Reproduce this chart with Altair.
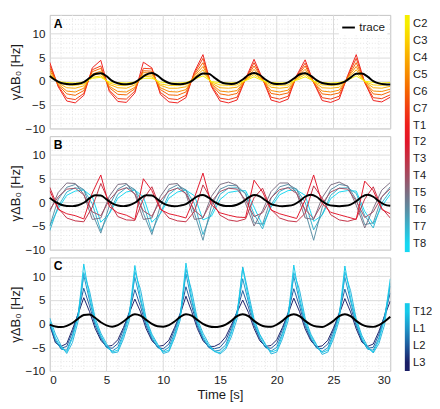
import altair as alt
import pandas as pd

# ---------------- data ----------------
T75 = [0, 0.75, 1.5, 2.25, 3, 3.75, 4.5, 5.25, 6, 6.75, 7.5, 8.25, 9, 9.75, 10.5, 11.25,
       12, 12.75, 13.5, 14.25, 15, 15.75, 16.5, 17.25, 18, 18.75, 19.5, 20.25, 21, 21.75,
       22.5, 23.25, 24, 24.75, 25.5, 26.25, 27, 27.75, 28.5, 29.25, 30]
T50 = [0, 0.5, 1, 1.5, 2, 2.5, 3, 3.5, 4, 4.5, 5, 5.5, 6, 6.5, 7, 7.5, 8, 8.5, 9, 9.5,
       10, 10.5, 11, 11.5, 12, 12.5, 13, 13.5, 14, 14.5, 15, 15.5, 16, 16.5, 17, 17.5,
       18, 18.5, 19, 19.5, 20, 20.5, 21, 21.5, 22, 22.5, 23, 23.5, 24, 24.5, 25, 25.5,
       26, 26.5, 27, 27.5, 28, 28.5, 29, 29.5, 30]

LEVELS = ["C2", "C3", "C4", "C5", "C6", "C7", "T1", "T2", "T3", "T4", "T5", "T6", "T7", "T8",
          "T9", "T10", "T11", "T12", "L1", "L2", "L3"]
SHOWN = ["C2", "C3", "C4", "C5", "C6", "C7", "T1", "T2", "T3", "T4", "T5", "T6", "T7", "T8",
         "", "", "", "T12", "L1", "L2", "L3"]
UPPER_COLORS = ["#f6ee00", "#fbd000", "#f9ad00", "#f78a00", "#f56400", "#f23d12", "#ee1e1c",
                "#e2162a", "#c43044", "#a24c62", "#7c6e82", "#5a8ea4", "#36b4ce", "#16d8f2"]
LOWER_COLORS = ["#16caea", "#1e94c8", "#1e5a9c", "#1a1e66"]
COLOR = dict(zip(LEVELS[:14], UPPER_COLORS))
COLOR.update(dict(zip(LEVELS[17:], LOWER_COLORS)))

# Panel A (cervical + T1)
A_T1 = [4.0, -1.2, -4.2, -4.6, -3.0, 2.8, 4.4, -2.2, -4.3, -4.5, -2.5, 4.0, 2.8, -2.8, -4.4, -4.6, -3.5, 2.0, 5.6, -1.2,
        -4.2, -4.6, -4.0, 0.5, 4.6, 0.5, -4.0, -4.5, -3.8, 1.2, 4.5, -0.3, -4.1, -4.5, -3.8, 1.2, 5.6, -0.3, -4.1, -4.4, -3.4]
A_C7 = [3.4, -1.0, -3.6, -3.9, -2.6, 2.4, 3.2, -1.9, -3.7, -3.8, -2.1, 2.7, 2.6, -2.4, -3.7, -3.9, -3.0, 1.7, 4.8, -1.0,
        -3.6, -3.9, -3.4, 0.4, 3.9, 0.4, -3.4, -3.8, -3.2, 1.0, 3.8, -0.3, -3.5, -3.8, -3.2, 1.0, 4.8, -0.3, -3.5, -3.7, -2.9]
A_C6 = [2.8, -0.8, -2.7, -3.0, -2.0, 2.0, 2.7, -1.4, -2.8, -2.9, -1.6, 2.2, 2.1, -1.8, -2.9, -3.0, -2.3, 1.4, 3.9, -0.8,
        -2.7, -3.0, -2.6, 0.4, 3.2, 0.4, -2.6, -2.9, -2.5, 0.8, 3.2, -0.2, -2.7, -2.9, -2.5, 0.8, 3.9, -0.2, -2.7, -2.9, -2.2]
A_C5 = [2.2, -0.6, -2.1, -2.3, -1.5, 1.5, 2.1, -1.1, -2.2, -2.3, -1.3, 1.8, 1.7, -1.4, -2.2, -2.3, -1.8, 1.1, 3.1, -0.6,
        -2.1, -2.3, -2.0, 0.3, 2.5, 0.3, -2.0, -2.3, -1.9, 0.7, 2.5, -0.2, -2.1, -2.3, -1.9, 0.7, 3.1, -0.2, -2.1, -2.2, -1.7]
A_C4 = [1.7, -0.4, -1.4, -1.5, -1.0, 1.2, 1.6, -0.7, -1.4, -1.5, -0.8, 1.3, 1.3, -0.9, -1.5, -1.5, -1.2, 0.8, 2.4, -0.4,
        -1.4, -1.5, -1.3, 0.2, 1.9, 0.2, -1.3, -1.5, -1.3, 0.5, 1.9, -0.1, -1.4, -1.5, -1.3, 0.5, 2.4, -0.1, -1.4, -1.5, -1.1]
A_C3 = [1.2, -0.2, -0.8, -0.9, -0.6, 0.8, 1.1, -0.4, -0.9, -0.9, -0.5, 1.0, 0.9, -0.6, -0.9, -0.9, -0.7, 0.6, 1.7, -0.2,
        -0.8, -0.9, -0.8, 0.2, 1.4, 0.2, -0.8, -0.9, -0.8, 0.4, 1.4, -0.1, -0.8, -0.9, -0.8, 0.4, 1.7, -0.1, -0.8, -0.9, -0.7]
A_C2 = [0.8, -0.1, -0.3, -0.4, -0.2, 0.6, 0.8, -0.2, -0.3, -0.4, -0.2, 0.6, 0.6, -0.2, -0.4, -0.4, -0.3, 0.4, 1.1, -0.1,
        -0.3, -0.4, -0.3, 0.1, 0.9, 0.1, -0.3, -0.4, -0.3, 0.2, 0.9, 0.0, -0.3, -0.4, -0.3, 0.2, 1.1, 0.0, -0.3, -0.4, -0.3]
A_TRACE = [1.1, 0.2, -0.4, -0.6, -0.65, -0.55, -0.2, 0.65, 1.5, 1.65, 1.05, 0.05, -0.45, -0.65, -0.6, -0.25, 0.55, 1.4,
           1.7, 1.15, 0.2, -0.4, -0.62, -0.65, -0.48, 0.0, 0.95, 1.62, 1.55, 0.75, -0.1, -0.52, -0.6, -0.35, 0.35, 1.3,
           1.7, 1.3, 0.35, -0.35, -0.6, -0.58, -0.25, 0.55, 1.4, 1.65, 1.1, 0.2, -0.4, -0.62, -0.68, -0.52, -0.1, 0.75,
           1.55, 1.62, 0.95, 0.0, -0.48, -0.65, -0.7]

# Panel B (T2 - T8)
B_T2 = [2.5, -1.5, -2.4, -2.8, -3.5, 2.0, 5.8, -0.9, -2.2, -2.7, -3.6, 5.0, 2.5, -1.5, -2.4, -2.8, -3.3, 1.0, 6.2, -0.5,
        -2.2, -2.7, -3.1, -3.2, 4.7, 2.2, -1.6, -2.4, -2.9, -3.4, 0.5, 5.8, -0.2, -2.1, -2.6, -3.1, -3.6, 4.5, 2.5, -1.5, -2.4]
B_T3 = [3.2, -1.2, -3.3, -3.9, -4.1, -1.0, 4.0, 0.0, -3.0, -3.7, -3.8, 0.7, 3.3, -1.2, -3.3, -3.9, -4.1, -1.9, 3.7, 0.5,
        -2.7, -3.7, -4.0, -3.5, 1.0, 3.0, -1.5, -3.3, -3.9, -4.1, -2.3, 3.5, 0.9, -2.6, -3.7, -4.0, -3.5, 0.7, 3.3, -1.2, -3.3]
B_T4 = [-1.6, 1.2, 2.8, 3.0, 1.6, -2.0, -2.8, 0.5, 2.5, 3.1, 1.8, -1.8, -2.9, 0.4, 2.4, 3.0, 1.9, -1.7, -3.2, 0.2,
        2.3, 3.0, 2.8, 0.5, -3.0, -2.2, 1.0, 2.7, 3.1, 1.9, -1.5, -3.4, -0.3, 2.2, 3.0, 2.8, 0.3, -3.2, -2.0, 1.2, 2.9]
B_T5 = [-2.0, 2.1, 4.1, 4.0, 1.7, -3.6, -3.3, 1.3, 3.8, 4.0, 1.7, -3.6, -3.3, 1.3, 3.8, 4.0, 1.7, -3.6, -3.3, 1.3,
        3.8, 4.3, 3.6, -0.2, -5.0, -1.7, 2.3, 4.1, 4.1, 2.0, -3.3, -3.6, 1.0, 3.7, 4.3, 3.4, -0.6, -5.4, -1.3, 2.6, 4.2]
B_T6 = [-5.0, 0.7, 3.2, 3.8, 2.7, -2.3, -6.5, -0.7, 2.8, 3.8, 2.7, -2.3, -6.8, -0.7, 2.8, 3.7, 2.6, -2.3, -8.0, -0.7,
        2.8, 3.6, 3.5, 1.8, -4.3, -4.6, 0.9, 3.3, 3.8, 2.8, -1.9, -8.0, -1.1, 2.7, 3.8, 3.5, 0.6, -4.7, -4.3, 1.1, 3.3]
B_T7 = [-6.0, -0.8, 2.2, 3.1, 2.7, -0.3, -6.0, -2.2, 1.7, 3.1, 2.7, -0.3, -6.2, -2.2, 1.7, 3.1, 2.7, -0.3, -6.8, -2.2,
        1.7, 3.0, 3.1, 2.0, -2.5, -5.6, -0.5, 2.3, 3.2, 2.8, 0.0, -5.8, -2.5, 1.5, 3.0, 3.1, 1.9, -2.8, -5.4, -0.1, 2.4]
B_T8 = [-5.0, -1.3, 1.5, 2.4, 2.6, 1.2, -4.2, -2.4, 0.9, 2.2, 2.6, 1.2, -4.2, -2.4, 0.9, 2.2, 2.6, 1.4, -3.7, -2.9,
        0.6, 2.1, 2.4, 2.5, -1.0, -4.9, -1.0, 1.6, 2.5, 2.6, 1.5, -4.0, -2.7, 0.8, 2.2, 2.5, 2.4, -1.9, -4.6, -0.8, 1.7]
B_TRACE = [1.0, 0.1, -0.5, -0.75, -0.78, -0.6, -0.08, 0.85, 1.52, 1.45, 0.65, -0.2, -0.65, -0.78, -0.6, -0.08, 0.85,
           1.52, 1.45, 0.65, -0.2, -0.65, -0.8, -0.68, -0.35, 0.45, 1.3, 1.58, 1.0, 0.1, -0.5, -0.75, -0.75, -0.5, 0.1,
           1.0, 1.58, 1.3, 0.45, -0.35, -0.68, -0.8, -0.72, -0.45, 0.25, 1.2, 1.6, 1.2, 0.25, -0.45, -0.72, -0.8, -0.72,
           -0.45, 0.25, 1.2, 1.6, 1.2, 0.25, -0.45, -0.72]

# Panel C (T12 - L3)
C_T12 = [0.5, -3.0, -5.0, -6.0, -3.0, 1.5, 12.6, 5.8, 0.5, -2.5, -4.6, -6.0, -5.6, -2.5, 1.5, 12.3, 5.5, 0.5, -2.6, -4.6,
         -6.0, -5.6, -2.5, 1.5, 12.8, 5.6, 0.4, -2.6, -4.6, -5.9, -6.1, -5.0, -2.0, 2.0, 11.8, 5.4, 0.5, -2.5, -4.5, -6.0,
         -5.6, -2.5, 1.5, 12.4, 5.6, 0.5, -2.6, -4.6, -6.1, -5.6, -2.5, 1.5, 12.2, 5.5, 0.5, -3.0, -5.2, -6.0, -3.5, 1.0, 9.5]
C_T12B = [1.2, -2.2, -4.6, -6.3, -4.0, 0.5, 10.8, 7.0, 1.2, -2.0, -4.2, -6.2, -6.0, -3.2, 0.6, 11.0, 7.2, 1.0, -2.2, -4.3,
          -6.3, -5.9, -3.0, 0.8, 11.5, 7.0, 1.0, -2.0, -4.2, -5.8, -6.4, -5.4, -2.8, 1.0, 12.0, 6.5, 1.0, -2.2, -4.3, -6.4,
          -6.0, -3.2, 0.6, 10.8, 7.2, 1.2, -2.2, -4.4, -6.5, -6.0, -3.2, 0.7, 10.9, 7.0, 1.0, -2.5, -4.8, -6.2, -4.2, -0.2, 8.5]
C_L1 = [0.2, -3.4, -5.4, -5.6, -2.6, 2.0, 10.2, 5.0, 0.2, -2.8, -5.0, -5.8, -5.0, -2.0, 2.2, 9.8, 4.8, 0.0, -3.0, -5.0,
        -5.8, -5.0, -2.0, 2.0, 10.5, 4.9, 0.0, -3.0, -5.0, -5.8, -5.6, -4.5, -1.5, 2.5, 9.5, 4.6, 0.0, -3.0, -5.0, -5.8,
        -5.0, -2.0, 2.0, 10.0, 4.8, 0.0, -3.0, -5.1, -5.9, -5.1, -2.0, 2.0, 9.8, 4.8, 0.0, -3.4, -5.4, -5.6, -3.0, 1.5, 8.0]
C_L2 = [0.0, -3.8, -5.2, -4.8, -1.8, 2.2, 7.5, 3.8, -0.4, -3.2, -5.0, -5.2, -4.2, -1.2, 2.4, 7.2, 3.6, -0.5, -3.3, -5.0,
        -5.3, -4.3, -1.2, 2.3, 7.8, 3.8, -0.5, -3.3, -5.0, -5.3, -5.0, -3.6, -0.8, 2.6, 7.0, 3.5, -0.4, -3.2, -5.0, -5.2,
        -4.2, -1.2, 2.4, 7.4, 3.7, -0.5, -3.3, -5.1, -5.3, -4.3, -1.3, 2.3, 7.3, 3.6, -0.5, -3.6, -5.2, -5.0, -2.2, 1.8, 6.5]
C_L3 = [-0.3, -4.0, -4.8, -4.2, -1.2, 2.0, 5.5, 2.6, -1.0, -3.5, -4.8, -4.6, -3.4, -0.8, 2.2, 5.2, 2.5, -1.1, -3.6, -4.8,
        -4.6, -3.5, -0.8, 2.0, 5.8, 2.6, -1.0, -3.6, -4.8, -4.8, -4.2, -2.8, -0.3, 2.4, 5.0, 2.4, -1.0, -3.6, -4.8, -4.6,
        -3.4, -0.8, 2.1, 5.4, 2.6, -1.1, -3.6, -4.9, -4.7, -3.5, -0.9, 2.0, 5.3, 2.5, -1.1, -3.9, -4.8, -4.3, -1.6, 1.6, 4.8]
C_TRACE = [-0.2, -0.6, -0.72, -0.45, 0.15, 1.05, 1.85, 1.95, 1.25, 0.3, -0.35, -0.63, -0.3, 0.45, 1.45, 2.0, 1.7, 0.8,
           -0.05, -0.55, -0.63, -0.3, 0.45, 1.45, 2.0, 1.7, 0.8, -0.05, -0.55, -0.72, -0.6, -0.2, 0.6, 1.6, 2.0, 1.6,
           0.6, -0.2, -0.6, -0.65, -0.2, 0.6, 1.6, 2.0, 1.6, 0.6, -0.2, -0.6, -0.7, -0.2, 0.6, 1.6, 2.0, 1.6, 0.6,
           -0.2, -0.6, -0.68, -0.3, 0.45, 1.45]

PANEL_A = [("T1", A_T1), ("C7", A_C7), ("C6", A_C6), ("C5", A_C5), ("C4", A_C4), ("C3", A_C3), ("C2", A_C2)]
PANEL_B = [("T8", B_T8), ("T7", B_T7), ("T6", B_T6), ("T5", B_T5), ("T4", B_T4), ("T3", B_T3), ("T2", B_T2)]
PANEL_C = [("L3", C_L3), ("L2", C_L2), ("L1", C_L1), ("T12", C_T12B), ("T12", C_T12)]

X_TICKS = [0, 5, 10, 15, 20, 25, 30]
Y_TICKS = [-10, -5, 0, 5, 10]
MAJOR_X = [5, 10, 15, 20, 25]
MINOR_X = [1, 2, 3, 4, 6, 7, 8, 9, 11, 12, 13, 14, 16, 17, 18, 19, 21, 22, 23, 24, 26, 27, 28, 29]
MINOR_Y = [-9, -8, -7, -6, -4, -3, -2, -1, 1, 2, 3, 4, 6, 7, 8, 9, 11, 12, 13]

# colorbar segments (in level index units)
SEG_START = [0, 14, 17]
SEG_END = [14, 17, 21]

# ---------------- layout ----------------
W = 351
H = 117
GAP = 8
FONT = "Liberation Sans"
Y_TITLE = "γΔB₀ [Hz]"


def xenc(field, bottom):
    sc = alt.Scale(domain=[0, 30], nice=False, zero=False)
    if bottom:
        ax = alt.Axis(values=X_TICKS, grid=False, title="Time [s]", labelPadding=4, titlePadding=2)
        return alt.X(field, type="quantitative", scale=sc, axis=ax)
    return alt.X(field, type="quantitative", scale=sc, axis=None)


def yenc(field):
    return alt.Y(field, type="quantitative",
                 scale=alt.Scale(domain=[-10, 14], nice=False, zero=False),
                 axis=alt.Axis(values=Y_TICKS, grid=True, title=Y_TITLE, labelPadding=5, titlePadding=3))


def make_panel(series, tgrid, trace, letter, bottom, legend, colors_override=None):
    rows = []
    for i, (lvl, vals) in enumerate(series):
        col = COLOR[lvl]
        if colors_override and i in colors_override:
            col = colors_override[i]
        for t, v in zip(tgrid, vals):
            rows.append({"t": t, "v": v, "series": f"{lvl}_{i}", "col": col})
    df = pd.DataFrame(rows)
    tr = pd.DataFrame({"t": T50, "v": trace, "name": ["trace"] * len(T50)})

    mx = alt.Chart(pd.DataFrame({"mx": MINOR_X})).mark_rule(
        color="#e4e4e4", strokeDash=[1, 2], strokeWidth=1).encode(x=xenc("mx", bottom))
    gx = alt.Chart(pd.DataFrame({"mx": MAJOR_X})).mark_rule(
        color="#dadada", strokeWidth=1).encode(x=xenc("mx", bottom))
    my = alt.Chart(pd.DataFrame({"my": MINOR_Y})).mark_rule(
        color="#e4e4e4", strokeDash=[1, 2], strokeWidth=1).encode(y=yenc("my"))
    lines = alt.Chart(df).mark_line(strokeWidth=1, clip=True).encode(
        x=xenc("t", bottom), y=yenc("v"), detail="series:N",
        stroke=alt.Stroke("col:N", scale=None))
    if legend:
        trl = alt.Chart(tr).mark_line(strokeWidth=2, interpolate="monotone").encode(
            x=xenc("t", bottom), y=yenc("v"),
            color=alt.Color("name:N", scale=alt.Scale(domain=["trace"], range=["black"]),
                            legend=alt.Legend(title=None, orient="top-right", symbolType="stroke",
                                              symbolStrokeWidth=2, symbolSize=170, labelFontSize=12,
                                              labelFont=FONT, labelColor="#1a1a1a", offset=3, padding=2,
                                              labelOffset=3, fillColor="white")))
    else:
        trl = alt.Chart(tr).mark_line(strokeWidth=2, color="black", interpolate="monotone").encode(
            x=xenc("t", bottom), y=yenc("v"))
    lab = alt.Chart(pd.DataFrame({"t": [0.35], "v": [12.1], "lab": [letter]})).mark_text(
        align="left", baseline="middle", fontSize=12.5, fontWeight="bold", color="black", font=FONT).encode(
        x=xenc("t", bottom), y=yenc("v"), text="lab:N")
    return alt.layer(mx, gx, my, lines, trl, lab).properties(width=W, height=H)


pA = make_panel(PANEL_A, T75, A_TRACE, "A", False, True)
pB = make_panel(PANEL_B, T75, B_TRACE, "B", False, False)
pC = make_panel(PANEL_C, T50, C_TRACE, "C", True, False, colors_override={3: "#28b4dc"})

# colorbar
label_expr = "[" + ",".join("'%s'" % s for s in SHOWN) + "][floor(datum.value)]"
cb_y = alt.Y("y0:Q", scale=alt.Scale(domain=[0, 21], reverse=True, nice=False, zero=False),
             axis=alt.Axis(orient="right", values=[i + 0.5 for i in range(21)], labelExpr=label_expr,
                           ticks=False, domain=False, grid=False, title=None, labelFontSize=11.5,
                           labelPadding=3, labelFont=FONT, labelColor="#1a1a1a"))
grad_up = alt.LinearGradient(
    gradient="linear", x1=0, x2=0, y1=0, y2=1,
    stops=[alt.GradientStop(color=c, offset=(i + 0.5) / 14) for i, c in enumerate(UPPER_COLORS)])
grad_lo = alt.LinearGradient(
    gradient="linear", x1=0, x2=0, y1=0, y2=1,
    stops=[alt.GradientStop(color=c, offset=(i + 0.5) / 4) for i, c in enumerate(LOWER_COLORS)])
seg_fills = [grad_up, "white", grad_lo]
cb_layers = []
for s0, s1, f in zip(SEG_START, SEG_END, seg_fills):
    cb_layers.append(alt.Chart(pd.DataFrame({"y0": [s0], "y1": [s1]})).mark_rect(fill=f).encode(
        y=cb_y, y2="y1:Q"))
colorbar = alt.layer(*cb_layers).properties(width=5, height=3 * H + 2 * GAP,
                                            view=alt.ViewBackground(stroke=None))

left = alt.vconcat(pA, pB, pC, spacing=GAP, bounds="flush").resolve_scale(
    color="independent").resolve_legend(color="independent")
chart = alt.hconcat(left, colorbar, spacing=10).resolve_scale(color="independent").resolve_legend(
    color="independent").properties(padding=0, background="white").configure(font=FONT).configure_axis(
    labelFontSize=12, titleFontSize=13.5, labelColor="#1a1a1a", titleColor="#1a1a1a",
    titleFontWeight="normal", gridColor="#dadada", gridWidth=1, ticks=False, domain=False,
    labelFont=FONT, titleFont=FONT).configure_view(stroke="#c2c2c2", strokeWidth=1)

chart.save("out.html", embed_options={"renderer": "svg", "actions": False})
